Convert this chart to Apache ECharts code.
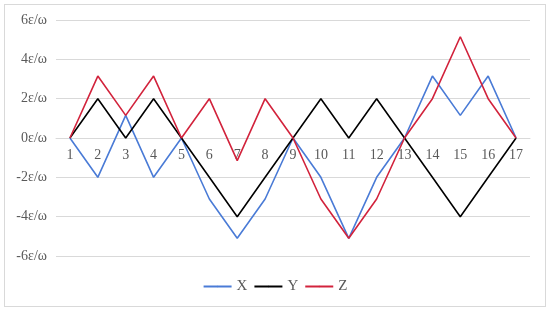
<!DOCTYPE html>
<html>
<head>
<meta charset="utf-8">
<script src="https://cdn.jsdelivr.net/npm/echarts@6/dist/echarts.min.js"></script>
<style>
  html, body { margin: 0; padding: 0; background: #fff; }
  #box { position: absolute; left: 4px; top: 4px; width: 540px; height: 301px; border: 1px solid #d9d9d9; }
  #main { position: absolute; left: 0; top: 0; width: 550px; height: 312px; }
</style>
</head>
<body>
<div id="box"></div>
<div id="main"></div>
<script>
var categories = ['1','2','3','4','5','6','7','8','9','10','11','12','13','14','15','16','17'];
var xValues = [0, -2, 1.15, -2, 0, -3.1, -5.1, -3.1, 0, -2, -5.1, -2, 0, 3.15, 1.15, 3.15, 0];
var yValues = [0, 2, 0, 2, 0, -2, -4, -2, 0, 2, 0, 2, 0, -2, -4, -2, 0];
var zValues = [0, 3.15, 1.15, 3.15, 0, 2, -1.15, 2, 0, -3.1, -5.1, -3.1, 0, 2, 5.15, 2, 0];
var yTicks = [-6, -4, -2, 0, 2, 4, 6];

var myChart = echarts.init(document.getElementById('main'));
var font = '"Liberation Serif", "DejaVu Serif", serif';

function line(name, data, color) {
    return {
        name: name,
        type: 'line',
        data: data,
        symbol: 'none',
        lineStyle: { color: color, width: 1.6 },
        itemStyle: { color: color },
        z: name === 'X' ? 2 : (name === 'Y' ? 3 : 4)
    };
}

// grid spans 20..256, zero sits half way => shift the category axis up by half the height
var gridTop = 20, gridBottom = 56;
var zeroOffset = -(312 - gridTop - gridBottom) / 2;

option = {
    animation: false,
    textStyle: { fontFamily: font },
    grid: { left: 56, right: 20, top: gridTop, bottom: gridBottom },
    legend: {
        bottom: 13,
        left: 'center',
        itemWidth: 28,
        itemHeight: 2,
        itemGap: 6,
        textStyle: { fontFamily: font, fontSize: 15, color: '#595959' },
        data: ['X', 'Y', 'Z']
    },
    xAxis: {
        type: 'category',
        data: categories,
        boundaryGap: true,
        offset: zeroOffset,
        axisLine: { onZero: false, lineStyle: { color: '#d9d9d9' } },
        axisTick: { show: false },
        axisLabel: { color: '#595959', fontSize: 14, fontFamily: font, margin: 10 }
    },
    yAxis: {
        type: 'value',
        min: yTicks[0],
        max: yTicks[yTicks.length - 1],
        interval: 2,
        axisLine: { show: false },
        axisTick: { show: false },
        splitLine: { lineStyle: { color: '#d9d9d9' } },
        axisLabel: {
            color: '#595959', fontSize: 14, fontFamily: font, margin: 9,
            formatter: function (v) { return v + 'ε/ω'; }
        }
    },
    series: [
        line('X', xValues, '#4a7bd6'),
        line('Y', yValues, '#000000'),
        line('Z', zValues, '#d2233c')
    ]
};

myChart.setOption(option);
</script>
</body>
</html>
